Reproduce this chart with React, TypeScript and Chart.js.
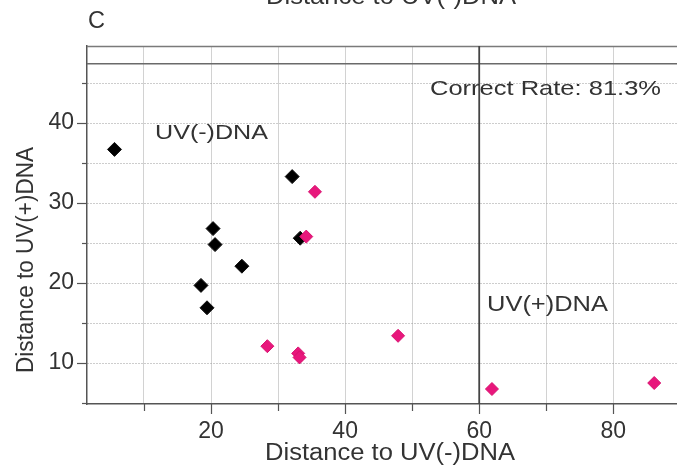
import React, { useEffect, useRef } from "react";
import { Chart, registerables } from "chart.js";

Chart.register(...registerables);

// ---- data ----
const uvMinusX = [5.6, 32.1, 20.3, 20.6, 24.6, 18.5, 19.4, 33.3];
const uvMinusY = [36.7, 33.3, 26.8, 24.8, 22.1, 19.7, 16.9, 25.6];
const uvPlusX = [35.5, 34.2, 28.4, 33.0, 33.2, 47.9, 61.9, 86.1];
const uvPlusY = [31.4, 25.8, 12.1, 11.2, 10.7, 13.4, 6.75, 7.5];
const boundaryX = 60;
const boundaryY = 47.4;
const xRange = [1.5, 89.5];
const yRange = [4.875, 49.625];
const xLabelTicks = [20, 40, 60, 80];
const yLabelTicks = [10, 20, 30, 40];
const panelLabel = "C";
const xTitle = "Distance to UV(-)DNA";
const yTitle = "Distance to UV(+)DNA";
const topTitle = "Distance to UV(-)DNA";
const rateText = "Correct Rate: 81.3%";
const minusLabel = "UV(-)DNA";
const plusLabel = "UV(+)DNA";

const FONT = "'Liberation Sans', Arial, Helvetica, sans-serif";
const TEXT = "#333333";
const AXIS = "#555555";

function drawStretched(
  ctx: CanvasRenderingContext2D,
  text: string,
  x: number,
  baseline: number,
  size: number,
  targetW: number
) {
  ctx.save();
  ctx.font = `${size}px ${FONT}`;
  const w = ctx.measureText(text).width;
  ctx.translate(x, baseline);
  ctx.scale(targetW / w, 1);
  ctx.textAlign = "left";
  ctx.textBaseline = "alphabetic";
  ctx.fillStyle = TEXT;
  ctx.fillText(text, 0, 0);
  ctx.restore();
}

const decorPlugin = {
  id: "decor",
  beforeDatasetsDraw(chart: any) {
    const { ctx, chartArea } = chart;
    ctx.save();
    ctx.strokeStyle = "#7a7a7a";
    ctx.lineWidth = 1.5;
    ctx.beginPath();
    ctx.moveTo(chartArea.left, chartArea.top + 0.5);
    ctx.lineTo(chartArea.right, chartArea.top + 0.5);
    ctx.stroke();
    ctx.restore();
  },
  afterDraw(chart: any) {
    const { ctx, chartArea } = chart;
    const xs = chart.scales.x;
    const ys = chart.scales.y;
    ctx.save();
    ctx.strokeStyle = AXIS;
    ctx.lineWidth = 1.2;
    // tick marks
    xs.ticks.forEach((t: any) => {
      const px = Math.round(xs.getPixelForValue(t.value)) + 0.5;
      const len = xLabelTicks.includes(t.value) ? 10 : 7;
      ctx.beginPath();
      ctx.moveTo(px, chartArea.bottom);
      ctx.lineTo(px, chartArea.bottom + len);
      ctx.stroke();
    });
    ys.ticks.forEach((t: any) => {
      const py = Math.round(ys.getPixelForValue(t.value)) + 0.5;
      const len = yLabelTicks.includes(t.value) ? 10 : 5;
      ctx.beginPath();
      ctx.moveTo(chartArea.left, py);
      ctx.lineTo(chartArea.left - len, py);
      ctx.stroke();
    });
    ctx.restore();

    // texts
    drawStretched(ctx, panelLabel, 88, 28, 24, 17);
    drawStretched(ctx, topTitle, 266, 4, 23.5, 250);
    drawStretched(ctx, rateText, 430, 95, 21, 231);
    drawStretched(ctx, minusLabel, 155, 139, 20, 113);
    drawStretched(ctx, plusLabel, 487, 311, 22, 121);
    drawStretched(ctx, xTitle, 265, 460, 23.5, 250);

    ctx.save();
    ctx.font = `23.5px ${FONT}`;
    const w = ctx.measureText(yTitle).width;
    ctx.translate(33, 260);
    ctx.rotate(-Math.PI / 2);
    ctx.scale(226 / w, 1);
    ctx.textAlign = "center";
    ctx.textBaseline = "alphabetic";
    ctx.fillStyle = TEXT;
    ctx.fillText(yTitle, 0, 0);
    ctx.restore();
  },
};

export default function App() {
  const ref = useRef<HTMLCanvasElement | null>(null);

  useEffect(() => {
    document.body.style.margin = "0";
    const canvas = ref.current;
    if (!canvas) return;

    const minusPts = uvMinusX.map((x, i) => ({ x, y: uvMinusY[i] }));
    const plusPts = uvPlusX.map((x, i) => ({ x, y: uvPlusY[i] }));

    const chart = new Chart(canvas, {
      type: "scatter",
      data: {
        datasets: [
          {
            label: "UV(+)DNA",
            data: plusPts,
            pointStyle: "rectRot",
            pointRadius: 6.5,
            pointBackgroundColor: "#E8177C",
            pointBorderColor: "#D8126F",
            pointBorderWidth: 1,
            order: 0,
          },
          {
            label: "UV(-)DNA",
            data: minusPts,
            pointStyle: "rectRot",
            pointRadius: 7,
            pointBackgroundColor: "#000000",
            pointBorderColor: "#111111",
            pointBorderWidth: 1,
            order: 1,
          },
          {
            label: "vline",
            data: [
              { x: boundaryX, y: yRange[0] },
              { x: boundaryX, y: yRange[1] },
            ],
            showLine: true,
            pointRadius: 0,
            borderColor: "#444444",
            borderWidth: 1.8,
            order: 2,
          },
          {
            label: "hline",
            data: [
              { x: xRange[0], y: boundaryY },
              { x: xRange[1], y: boundaryY },
            ],
            showLine: true,
            pointRadius: 0,
            borderColor: "#6a6a6a",
            borderWidth: 1.5,
            order: 2,
          },
        ],
      },
      options: {
        animation: false,
        responsive: false,
        devicePixelRatio: 1,
        layout: { autoPadding: false, padding: { top: 46, left: 0, right: 0, bottom: 0 } },
        plugins: {
          legend: { display: false },
          tooltip: { enabled: false },
          title: { display: false },
        },
        scales: {
          x: {
            type: "linear",
            min: xRange[0],
            max: xRange[1],
            afterFit: (s: any) => {
              s.height = 65;
              s.paddingLeft = 0;
              s.paddingRight = 0;
            },
            ticks: {
              stepSize: 10,
              includeBounds: false,
              autoSkip: false,
              maxRotation: 0,
              padding: 14,
              color: TEXT,
              font: { family: FONT, size: 23 },
              callback: (v: any) => (xLabelTicks.includes(Number(v)) ? String(v) : ""),
            },
            grid: {
              color: "#d2d2d2",
              lineWidth: 1,
              drawTicks: false,
            },
            border: { color: AXIS, width: 1.5 },
          },
          y: {
            type: "linear",
            min: yRange[0],
            max: yRange[1],
            afterFit: (s: any) => {
              s.width = 87;
              s.paddingTop = 0;
              s.paddingBottom = 0;
            },
            ticks: {
              stepSize: 5,
              includeBounds: false,
              autoSkip: false,
              padding: 13,
              color: TEXT,
              font: { family: FONT, size: 23 },
              callback: (v: any) => (yLabelTicks.includes(Number(v)) ? String(v) : ""),
            },
            grid: {
              color: "#9a9a9a",
              lineWidth: 1,
              drawTicks: false,
            },
            border: { color: AXIS, width: 1.5, dash: [1, 2] },
          },
        },
      },
      plugins: [decorPlugin],
    } as any);

    return () => chart.destroy();
  }, []);

  return (
    <div style={{ width: 677, height: 469, background: "#fff" }}>
      <canvas ref={ref} width={677} height={469} style={{ display: "block" }} />
    </div>
  );
}
